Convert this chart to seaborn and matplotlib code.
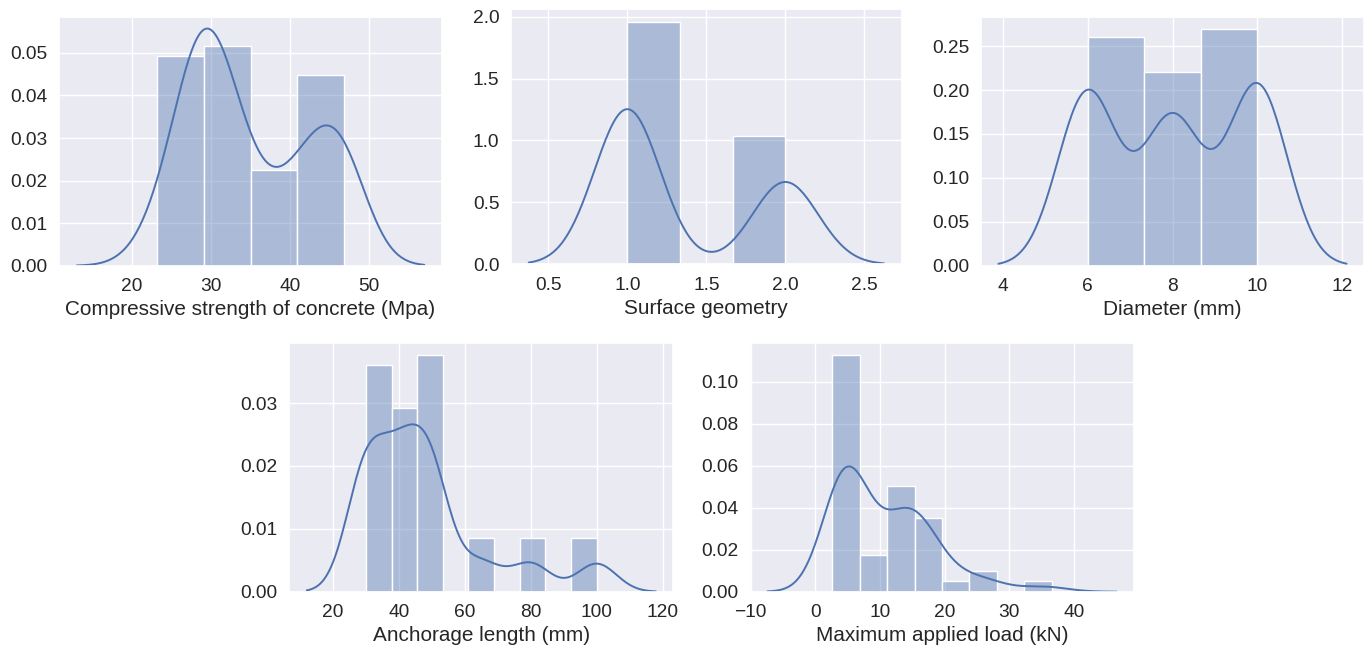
import numpy as np
import matplotlib
matplotlib.use("Agg")
import matplotlib.pyplot as plt
import seaborn as sns

# values found in each column and how many rows hold them
strength_vals = [23.1, 26.0, 27.5, 28.5, 30.0, 32.0, 34.0, 36.0, 40.5, 43.0, 44.5, 46.9]
strength_counts = [3, 5, 4, 10, 12, 6, 5, 3, 7, 3, 6, 11]

surface_vals = [1, 2]
surface_counts = [49, 26]

diameter_vals = [6, 8, 10]
diameter_counts = [26, 22, 27]

anchorage_vals = [30, 40, 47, 50, 65, 80, 100]
anchorage_counts = [21, 17, 6, 16, 5, 5, 5]

load_vals = [2.66, 3.5, 4.3, 5.2, 6.2, 7.8, 10.0, 12.3, 13.8, 15.0, 16.0, 17.5, 19.0,
             21.0, 23.0, 24.5, 25.5, 26.5, 27.5, 34.0, 36.55]
load_counts = [3, 8, 13, 12, 9, 3, 4, 6, 8, 6, 6, 4, 4, 1, 1, 1, 1, 1, 1, 1, 1]

labels = ["Compressive strength of concrete (Mpa)", "Surface geometry", "Diameter (mm)",
          "Anchorage length (mm)", "Maximum applied load (kN)"]
columns = [(strength_vals, strength_counts), (surface_vals, surface_counts),
           (diameter_vals, diameter_counts), (anchorage_vals, anchorage_counts),
           (load_vals, load_counts)]

# plot settings: bins, kde bandwidth, axes box in pixels (left, top, right, bottom)
n_bins = [4, 3, 3, 9, 8]
kde_bw = [3.37, 0.208, 0.70, 5.98, 3.35]
boxes = [(59.3, 16.7, 441.7, 265.7), (511, 9.5, 901.7, 264.3), (981, 16.7, 1364, 265.7),
         (289.3, 342.7, 673.3, 591.7), (750, 342.7, 1134, 591.7)]

sns.set_theme(style="darkgrid")
plt.rcParams["font.family"] = ["Liberation Sans", "DejaVu Sans"]
plt.rcParams["xtick.labelsize"] = 13.8
plt.rcParams["ytick.labelsize"] = 13.8
plt.rcParams["axes.labelsize"] = 14.95
plt.rcParams["xtick.major.size"] = 0
plt.rcParams["ytick.major.size"] = 0
plt.rcParams["xtick.major.pad"] = 9.0
plt.rcParams["ytick.major.pad"] = 8.3

W, H = 1369, 649
fig = plt.figure(figsize=(W / 100, H / 100), dpi=100)
blue = sns.color_palette()[0]

for (vals, counts), label, nb, bw, (l, t, r, b) in zip(columns, labels, n_bins, kde_bw, boxes):
    x = np.repeat(np.array(vals, dtype=float), counts)
    ax = fig.add_axes([l / W, 1 - b / H, (r - l) / W, (b - t) / H])
    sns.histplot(x=x, bins=nb, stat="density", kde=True, color=blue, alpha=0.4,
                 edgecolor="white", linewidth=1,
                 kde_kws={"cut": 3, "bw_method": bw / x.std(ddof=1)},
                 line_kws={"linewidth": 1.4}, ax=ax)
    ax.set_xlabel(label, labelpad=3.5)
    ax.set_ylabel("")

fig.savefig("out.png", dpi=100)
